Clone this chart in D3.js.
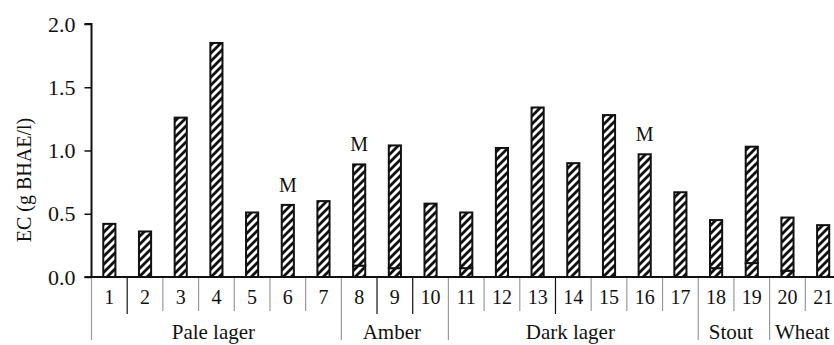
<!DOCTYPE html>
<html>
<head>
<meta charset="utf-8">
<script src="https://cdn.jsdelivr.net/npm/d3@7/dist/d3.min.js"></script>
<style>
  html, body { margin: 0; padding: 0; background: #fff; }
  svg { display: block; }
  svg text { font-family: "Liberation Serif", "Times New Roman", "DejaVu Serif", serif; fill: #111; }
</style>
</head>
<body>
<svg id="chart" width="834" height="345"></svg>
<script>
const categories = ["1","2","3","4","5","6","7","8","9","10","11","12","13","14","15","16","17","18","19","20","21"];
const totalValues = [0.42,0.36,1.26,1.85,0.51,0.57,0.60,0.89,1.04,0.58,0.51,1.02,1.34,0.90,1.28,0.97,0.67,0.45,1.03,0.47,0.41];
const baseValues  = [0,0,0,0,0,0,0,0.09,0.07,0,0.07,0,0,0,0,0,0,0.07,0.11,0.05,0];
const groupNames = ["Pale lager","Amber","Dark lager","Stout","Wheat"];
const groupSizes = [7,3,7,2,2];
const markedCategories = ["6","8","16"];
const markLabel = "M";
const yTicks = [0,0.5,1.0,1.5,2.0];
const yTitle = "EC (g BHAE/l)";
const darkDividers = ["2","9","10","14"]; // dividers drawn in black (left edge of these categories)

const FONT = '"Liberation Serif", "Times New Roman", "DejaVu Serif", serif';
const svg = d3.select("#chart");
const plotLeft = 91.5, plotRight = 841, plotTop = 24, plotBottom = 277;

const x = d3.scaleBand().domain(categories).range([plotLeft, plotRight]).paddingInner(0).paddingOuter(0);
const y = d3.scaleLinear().domain([0, 2]).range([plotBottom, plotTop]);

// hatch pattern
const defs = svg.append("defs");
const P = 8;
const pat = defs.append("pattern")
  .attr("id", "hatch").attr("patternUnits", "userSpaceOnUse")
  .attr("width", P).attr("height", P);
pat.append("rect").attr("width", P).attr("height", P).attr("fill", "#fff");
pat.append("path").attr("d", `M-2,${P+2} L${P+2},-2 M-${P/2+2},${P/2+2} L${P/2+2},-${P/2+2} M${P/2-2},${P*1.5+2} L${P*1.5+2},${P/2-2}`)
  .attr("stroke", "#111").attr("stroke-width", 2.8);

const barW = x.bandwidth() * 0.34;

// bars
const data = categories.map((c, i) => ({c, total: totalValues[i], base: baseValues[i]}));
const gBars = svg.append("g");
data.forEach(d => {
  const bx = x(d.c) + (x.bandwidth() - barW) / 2;
  const segs = d.base > 0 ? [[0, d.base], [d.base, d.total]] : [[0, d.total]];
  segs.forEach(s => {
    gBars.append("rect")
      .attr("x", bx).attr("width", barW)
      .attr("y", y(s[1])).attr("height", y(s[0]) - y(s[1]))
      .attr("fill", "url(#hatch)")
      .attr("stroke", "#111").attr("stroke-width", 2);
  });
});

// M labels
svg.append("g").selectAll("text").data(data.filter(d => markedCategories.includes(d.c)))
  .join("text")
  .attr("x", d => x(d.c) + x.bandwidth() / 2)
  .attr("y", d => y(d.total) - 13)
  .attr("text-anchor", "middle")
  .attr("font-family", FONT)
  .attr("font-size", 20)
  .text(markLabel);

// y axis
const yAxis = d3.axisLeft(y).tickValues(yTicks).tickFormat(d3.format(".1f")).tickSize(7).tickPadding(9);
const ya = svg.append("g").attr("transform", `translate(${plotLeft},0)`).call(yAxis)
  .attr("font-family", FONT).attr("font-size", 22);
ya.select(".domain").attr("stroke", "#111").attr("stroke-width", 2).attr("d", `M-7,${plotTop}H0V${plotBottom}`);
ya.selectAll(".tick line").attr("stroke", "#111").attr("stroke-width", 1.5);
ya.selectAll(".tick text").attr("font-size", 22).attr("font-family", FONT).attr("fill", "#111");

// y title
svg.append("text")
  .attr("transform", `translate(24,180) rotate(-90)`)
  .attr("text-anchor", "middle")
  .attr("dominant-baseline", "central")
  .attr("font-family", FONT)
  .attr("font-size", 20)
  .text(yTitle);

// category dividers
const groupStarts = [];
let acc = 0;
groupSizes.forEach(s => { groupStarts.push(acc); acc += s; });
categories.forEach((c, i) => {
  if (i === 0) return;
  const isGroup = groupStarts.includes(i);
  const dark = darkDividers.includes(c);
  svg.append("line")
    .attr("x1", x(c)).attr("x2", x(c))
    .attr("y1", plotBottom + 1).attr("y2", isGroup ? 340 : (dark ? 314 : 311))
    .attr("stroke", dark ? "#111" : "#999").attr("stroke-width", 1.2);
});
// leftmost group divider
svg.append("line").attr("x1", plotLeft).attr("x2", plotLeft).attr("y1", plotBottom + 1).attr("y2", 340)
  .attr("stroke", "#999").attr("stroke-width", 1.2);

// category labels
svg.append("g").selectAll("text").data(categories).join("text")
  .attr("x", d => x(d) + x.bandwidth() / 2)
  .attr("y", 304)
  .attr("text-anchor", "middle")
  .attr("font-family", FONT)
  .attr("font-size", 20)
  .text(d => d);

// group labels
svg.append("g").selectAll("text").data(groupNames).join("text")
  .attr("x", (d, i) => {
    const a = categories[groupStarts[i]];
    const b = categories[groupStarts[i] + groupSizes[i] - 1];
    return (x(a) + x(b) + x.bandwidth()) / 2 - 3;
  })
  .attr("y", 339)
  .attr("text-anchor", "middle")
  .attr("font-family", FONT)
  .attr("font-size", 21)
  .text(d => d);

// x axis baseline
svg.append("line").attr("x1", plotLeft - 7).attr("x2", 834).attr("y1", plotBottom).attr("y2", plotBottom)
  .attr("stroke", "#111").attr("stroke-width", 2);
</script>
</body>
</html>
